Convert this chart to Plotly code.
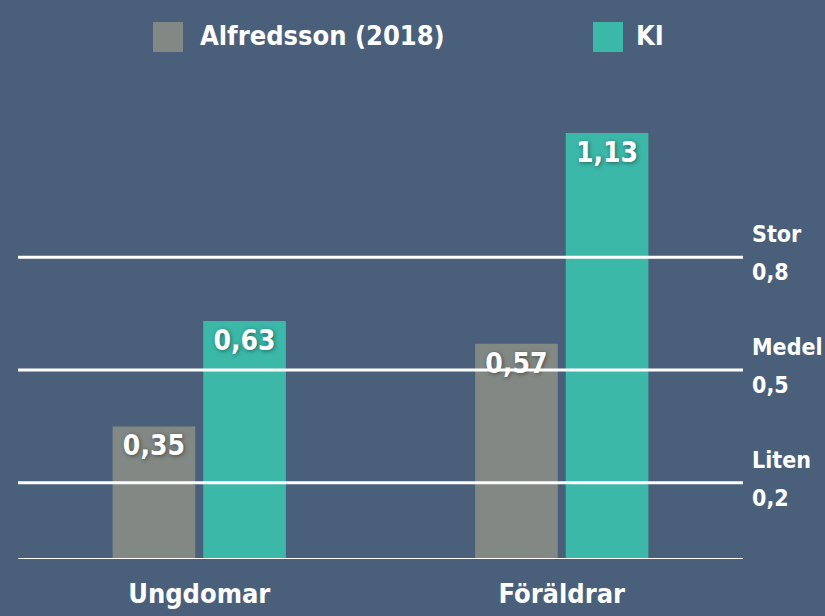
import plotly.graph_objects as go

categories = ["Ungdomar", "Föräldrar"]
series_names = ["Alfredsson (2018)", "KI"]
alfredsson = [0.35, 0.57]
ki = [0.63, 1.13]
ref_values = [0.8, 0.5, 0.2]
ref_labels = ["Stor", "Medel", "Liten"]

BG = "#4A5F7A"
GRAY = "#828884"
TEAL = "#3BB8A8"
FONT = "DejaVu Sans Condensed"

def fmt(v):
    return f"{v:.2f}".replace(".", ",")

fig = go.Figure()
for name, vals, col in [(series_names[0], alfredsson, GRAY), (series_names[1], ki, TEAL)]:
    fig.add_trace(go.Bar(
        x=categories, y=vals, name=name, marker_color=col,
        marker_line_width=0,
        text=[fmt(v) for v in vals], textposition="inside",
        insidetextanchor="end", textangle=0,
        textfont=dict(family=FONT, size=28, color="white",
                      shadow="1px 1px 4px rgba(0,0,0,0.45)", weight="bold"),
        showlegend=False,
    ))

# reference lines with labels
for v, lab in zip(ref_values, ref_labels):
    fig.add_shape(type="line", xref="paper", yref="y", x0=0, x1=1, y0=v, y1=v,
                  line=dict(color="white", width=3), layer="above")
    fig.add_annotation(xref="paper", yref="y", x=1, y=v, xanchor="left", yanchor="middle",
                       xshift=7, yshift=23, showarrow=False, text=lab,
                       font=dict(family=FONT, size=23, color="white", weight="bold"))
    fig.add_annotation(xref="paper", yref="y", x=1, y=v, xanchor="left", yanchor="middle",
                       xshift=7, yshift=-15, showarrow=False,
                       text=str(v).replace('.', ','),
                       font=dict(family=FONT, size=23, color="white", weight="bold"))

# custom legend
W, H = 825, 616
L, R, T, B = 18, 82, 100, 58
pw, ph = W - L - R, H - T - B
def px(x): return (x - L) / pw
def py(y): return (H - B - y) / ph

for name, col, x0, tx in [(series_names[0], GRAY, 153, 198), (series_names[1], TEAL, 593, 634)]:
    fig.add_shape(type="rect", xref="paper", yref="paper",
                  x0=px(x0), x1=px(x0 + 30), y0=py(52), y1=py(22),
                  fillcolor=col, line_width=0)
    fig.add_annotation(xref="paper", yref="paper", x=px(tx), y=py(36),
                       xanchor="left", yanchor="middle", showarrow=False, text=name,
                       font=dict(family=FONT, size=27, color="white", weight="bold"))

fig.update_layout(
    width=W, height=H,
    paper_bgcolor=BG, plot_bgcolor=BG,
    margin=dict(l=L, r=R, t=T, b=B),
    barmode="group", bargap=0.5, bargroupgap=0.088,
    font=dict(family=FONT, color="white"),
    xaxis=dict(showgrid=False, showline=True, linecolor="white", linewidth=1,
               ticks="", automargin=False,
               tickfont=dict(family=FONT, size=27, color="white", weight="bold"),
               ticklabelstandoff=12),
    yaxis=dict(range=[0, (H - B - T) / 376], showgrid=False, zeroline=False,
               showticklabels=False, ticks="", automargin=False),
)

fig.write_html("out.html", config={"displayModeBar": False},
               post_script="document.body.style.margin='0';document.body.style.background='" + BG + "';")
